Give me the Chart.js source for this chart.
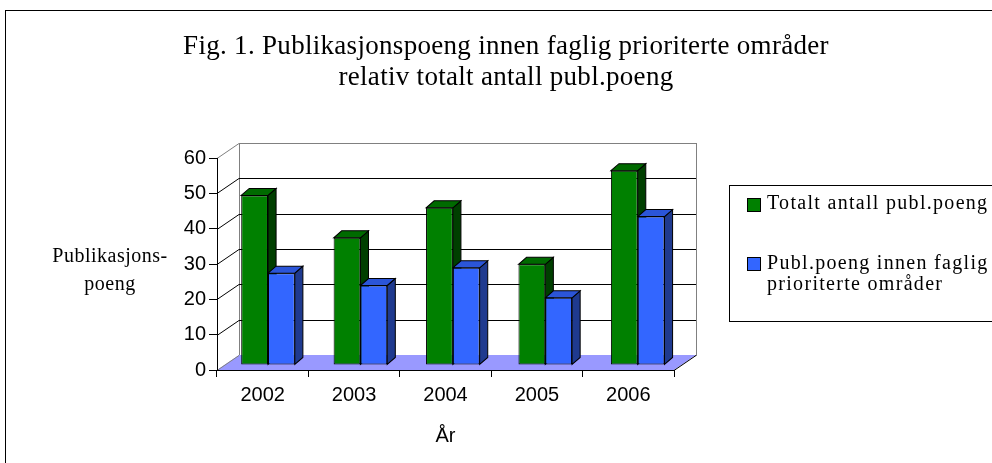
<!DOCTYPE html>
<html>
<head>
<meta charset="utf-8">
<script src="https://cdn.jsdelivr.net/npm/chart.js@4.4.1/dist/chart.umd.min.js"></script>
<style>
  html, body { margin: 0; padding: 0; background: #fff; }
  #wrap { position: relative; width: 992px; height: 463px; overflow: hidden; }
  #chart { position: absolute; left: 0; top: 0; }
  .frame { position: absolute; left: 5px; top: 10px; width: 1100px; height: 600px; border-left: 1px solid #000; border-top: 1px solid #000; }
  .serif { font-family: 'Liberation Serif', 'Times New Roman', serif; color: #000; position: absolute; white-space: nowrap; }
  #title { left: 0; top: 30px; width: 1012px; text-align: center; font-size: 27px; line-height: 31.4px; letter-spacing: 0.3px; }
  #ylabel { left: 50px; top: 241px; width: 120px; text-align: center; font-size: 20px; line-height: 28.3px; letter-spacing: 0.5px; }
  #legend { position: absolute; left: 729px; top: 185px; width: 400px; height: 135px; border: 1px solid #000; background: #fff; }
  .swatch { position: absolute; left: 17px; width: 12px; height: 12px; border: 1px solid #000; }
  .item { left: 37px; font-size: 20px; line-height: 20.7px; letter-spacing: 1.3px; }
</style>
</head>
<body>
<div id="wrap">
  <canvas id="chart" width="992" height="463"></canvas>
  <div class="frame"></div>
  <div id="title" class="serif">Fig. 1. Publikasjonspoeng innen faglig prioriterte områder<br>relativ totalt antall publ.poeng</div>
  <div id="ylabel" class="serif">Publikasjons-<br>poeng</div>
  <div id="legend">
    <div class="swatch" id="sw0" style="top: 12px;"></div>
    <div class="serif item" id="lg0" style="top: 6px;"></div>
    <div class="swatch" id="sw1" style="top: 71px;"></div>
    <div class="serif item" id="lg1" style="top: 66px;"></div>
  </div>
</div>
<script>
const years = ['2002', '2003', '2004', '2005', '2006'];
const totalPoints = [48, 36, 44.5, 28.5, 55];
const priorityPoints = [26, 22.5, 27.5, 19, 42];
const seriesNames = ['Totalt antall publ.poeng', 'Publ.poeng innen faglig\nprioriterte områder'];
const yTicks = [0, 10, 20, 30, 40, 50, 60];

// look of the fake 3d
const wallDx = 22, wallDy = -15;
const barShiftX = 2.35, barShiftY = -5, barSpread = 1.0112;
const depthX = 8, depthY = -7;

const palette = [
  { front: '#008000', side: '#003f00', top: '#006a00' },
  { front: '#3366ff', side: '#1f3a8f', top: '#2b55d8' }
];

// legend text
seriesNames.forEach((name, i) => {
  document.getElementById('lg' + i).innerHTML = name.replace('\n', '<br>');
  document.getElementById('sw' + i).style.background = palette[i].front;
});

const walls3d = {
  id: 'walls3d',
  beforeDraw(chart) {
    const { ctx, chartArea: a, scales } = chart;
    const y = scales.y;
    ctx.save();
    ctx.fillStyle = '#fff';
    ctx.fillRect(0, 0, chart.width, chart.height);
    ctx.lineWidth = 1;

    // back wall
    ctx.fillStyle = '#fff';
    ctx.strokeStyle = '#808080';
    ctx.fillRect(a.left + wallDx, a.top + wallDy, a.right - a.left, a.bottom - a.top);
    ctx.strokeRect(a.left + wallDx + 0.5, a.top + wallDy + 0.5, a.right - a.left, a.bottom - a.top);

    // floor
    ctx.beginPath();
    ctx.moveTo(a.left, a.bottom);
    ctx.lineTo(a.right, a.bottom);
    ctx.lineTo(a.right + wallDx, a.bottom + wallDy);
    ctx.lineTo(a.left + wallDx, a.bottom + wallDy);
    ctx.closePath();
    ctx.fillStyle = '#9999ff';
    ctx.fill();
    ctx.strokeStyle = '#808080';
    ctx.beginPath();
    ctx.moveTo(a.left, a.bottom + 0.5);
    ctx.lineTo(a.left + wallDx, a.bottom + wallDy + 0.5);
    ctx.stroke();
    ctx.strokeStyle = '#000';
    ctx.beginPath();
    ctx.moveTo(a.right, a.bottom + 0.5);
    ctx.lineTo(a.right + wallDx, a.bottom + wallDy + 0.5);
    ctx.stroke();

    // grid on back wall + left wall diagonals
    yTicks.forEach((v) => {
      const py = Math.round(y.getPixelForValue(v)) + 0.5;
      if (v > 0 && v < 60) {
        ctx.strokeStyle = '#000';
        ctx.beginPath();
        ctx.moveTo(a.left + wallDx, py + wallDy);
        ctx.lineTo(a.right + wallDx, py + wallDy);
        ctx.stroke();
      }
      if (v > 0) {
        ctx.strokeStyle = v === 60 ? '#808080' : '#000';
        ctx.beginPath();
        ctx.moveTo(a.left, py);
        ctx.lineTo(a.left + wallDx, py + wallDy);
        ctx.stroke();
      }
    });
    ctx.restore();
  },
  beforeDatasetsDraw(chart) {
    const { ctx } = chart;
    ctx.save();
    ctx.translate(barShiftX, barShiftY);
    ctx.scale(barSpread, 1);
    ctx.lineWidth = 1;
    ctx.strokeStyle = '#000';
    // sides and tops first, fronts are drawn by chart.js on top
    chart.data.datasets.forEach((ds, di) => {
      chart.getDatasetMeta(di).data.forEach((bar) => {
        const { x, y, base, width } = bar.getProps(['x', 'y', 'base', 'width'], true);
        const l = x - width / 2, r = x + width / 2;
        ctx.beginPath();
        ctx.moveTo(r, y);
        ctx.lineTo(r + depthX, y + depthY);
        ctx.lineTo(r + depthX, base + depthY);
        ctx.lineTo(r, base);
        ctx.closePath();
        ctx.fillStyle = palette[di].side;
        ctx.fill();
        ctx.stroke();
        ctx.beginPath();
        ctx.moveTo(l, y);
        ctx.lineTo(l + depthX, y + depthY);
        ctx.lineTo(r + depthX, y + depthY);
        ctx.lineTo(r, y);
        ctx.closePath();
        ctx.fillStyle = palette[di].top;
        ctx.fill();
        ctx.stroke();
      });
    });
  },
  afterDatasetsDraw(chart) {
    chart.ctx.restore();
  }
};

const axisFont = { family: "'Liberation Sans', Arial, sans-serif", size: 20 };

new Chart(document.getElementById('chart'), {
  type: 'bar',
  data: {
    labels: years,
    datasets: [
      { label: seriesNames[0], data: totalPoints, backgroundColor: palette[0].front, borderColor: '#000', borderWidth: 1, borderSkipped: false },
      { label: seriesNames[1], data: priorityPoints, backgroundColor: palette[1].front, borderColor: '#000', borderWidth: 1, borderSkipped: false }
    ]
  },
  options: {
    responsive: false,
    animation: false,
    events: [],
    layout: { padding: { left: 0, right: 318, top: 158, bottom: 0 } },
    datasets: { bar: { categoryPercentage: 0.58, barPercentage: 1.0 } },
    plugins: { legend: { display: false }, tooltip: { enabled: false }, title: { display: false } },
    scales: {
      x: {
        grid: { offset: true, drawOnChartArea: false, tickLength: 7, color: '#000' },
        border: { display: true, color: '#000' },
        ticks: { color: '#000', font: axisFont, padding: 6, maxRotation: 0 },
        title: { display: true, text: 'År', color: '#000', font: axisFont, padding: { top: 0, bottom: 15 } },
        afterFit(scale) { scale.height = 93; }
      },
      y: {
        min: 0,
        max: 60,
        grid: { drawOnChartArea: false, tickLength: 8, color: '#000' },
        border: { display: true, color: '#000' },
        ticks: { stepSize: 10, color: '#000', font: axisFont, padding: 3 },
        afterFit(scale) { scale.width = 217; }
      }
    }
  },
  plugins: [walls3d]
});
</script>
</body>
</html>
